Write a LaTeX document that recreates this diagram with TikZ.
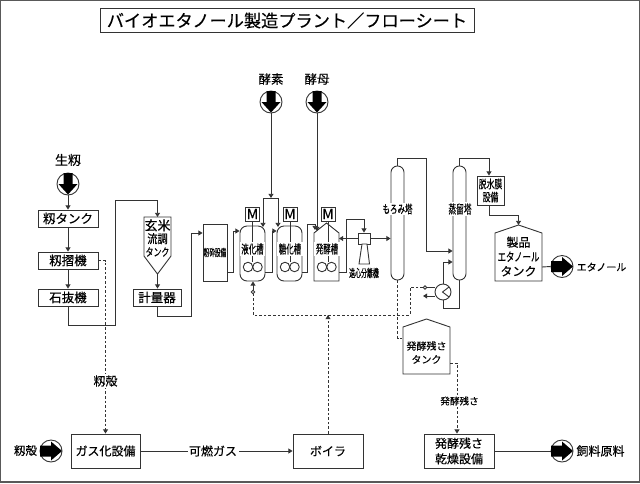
\documentclass[tikz,border=0pt]{standalone}
\usepackage{fontspec}
\setmainfont{Noto Sans CJK JP}[FakeBold=0.35]
\usetikzlibrary{arrows.meta}
\newcommand{\fsz}[1]{\fontsize{#1}{#1}\selectfont}
\newcommand{\nar}[2]{\scalebox{#1}[1]{#2}}
\tikzset{
  line/.style={draw=black!80,line width=0.9pt,line join=miter},
  flow/.style={line,-{Triangle[length=4.2pt,width=5pt]}},
  plain/.style={line},
  steamline/.style={draw=black!80,line width=0.9pt,dash pattern=on 2.6pt off 2pt},
  steamflow/.style={steamline,-{Triangle[length=4.2pt,width=5pt]}},
  box/.style={line,fill=white,rectangle,inner sep=0pt,align=center},
  vessel/.style={line,fill=white,rectangle,rounded corners=7pt,inner sep=0pt},
  column/.style={line,fill=white,rectangle,rounded corners=6.4pt,inner sep=0pt,minimum width=13pt,minimum height=114pt},
  motor/.style={box,minimum width=14pt,minimum height=14pt,font=\fsz{14}},
  paddle/.style={line,circle,inner sep=0pt,minimum size=9.5pt},
  port/.style={line,fill=white,circle,inner sep=0pt,minimum size=22pt},
  tag/.style={inner sep=0pt,align=center},
  backtag/.style={tag,fill=white,inner xsep=1.5pt,inner ysep=1pt},
  tap/.style={line,fill=white,circle,inner sep=0pt,minimum size=3.4pt},
  downflow/.pic={\fill[black] (-4.5,-11)--(4.5,-11)--(4.5,0)--(9.5,0)--(0,10.5)--(-9.5,0)--(-4.5,0)--cycle;},
  rightflow/.pic={\fill[black] (-11,-5.5)--(0,-5.5)--(0,-9.5)--(11,0)--(0,9.5)--(0,5.5)--(-11,5.5)--cycle;}
}
\begin{document}
\begin{tikzpicture}[x=1pt,y=-1pt]
\useasboundingbox (0,0) rectangle (640,483);
\draw[draw=black!65,line width=1.4pt] (0.7,0.7) rectangle (639.3,482);

% Title
\node[box,minimum width=374pt,minimum height=23.5pt,font=\fsz{17.2}] (title) at (287,20.5) {バイオエタノール製造プラント／フローシート};

% Rice intake line
\node[tag,font=\fsz{13}] (rawlabel) at (68,160) {生籾};
\node[port] (rawport) at (68,184) {};
\pic at (68,184) {downflow};
\node[box,minimum width=60pt,minimum height=17pt,font=\fsz{12.5}] (hopper) at (68,218.5) {籾タンク};
\node[box,minimum width=60pt,minimum height=17pt,font=\fsz{12.5}] (huller) at (68,260.5) {籾摺機};
\node[box,minimum width=60pt,minimum height=17pt,font=\fsz{12.5}] (stoner) at (68,297.5) {石抜機};
\draw[flow] (rawport.south) -- (hopper.north);
\draw[flow] (hopper.south) -- (huller.north);
\draw[flow] (huller.south) -- (stoner.north);

% Brown rice surge tank and weigher
\coordinate (surgetop) at (157.5,217);
\coordinate (surgetip) at (157.5,274);
\draw[line,fill=white] (144,217) -- (171,217) -- (171,256) -- (surgetip) -- (144,256) -- cycle;
\node[tag] (surgetext) at (157.5,238) {\fsz{13}玄米\\[1pt]\fsz{12}\nar{0.85}{流調}\\[1pt]\fsz{11}\nar{0.72}{タンク}};
\node[box,minimum width=48pt,minimum height=17pt,font=\fsz{12.5}] (weigher) at (157,297.5) {計量器};
\draw[flow] (stoner.south) -- (68,325) -- (115,325) -- (115,200) -- (157.5,200) -- (surgetop);
\draw[flow] (surgetip) -- (weigher.north-|surgetip);

% Mill
\node[box,minimum width=24pt,minimum height=57pt] (mill) at (215,252.5) {\fsz{10}\nar{0.56}{粉砕設備}};
\draw[flow] (weigher.south) -- (157,316) -- (191,316) -- (191,233) -- (mill.west|-191,233);

% Liquefaction and saccharification vessels
\node[vessel,minimum width=25pt,minimum height=55pt] (liq) at (252.5,253.5) {};
\node[vessel,minimum width=25pt,minimum height=55pt] (sac) at (289.5,253.5) {};
\node[motor] (m1) at (252.5,214) {M};
\node[motor] (m2) at (290,214) {M};
\node[motor] (m3) at (328,214) {M};

% Fermenter
\coordinate (fermpeak) at (326.5,223);
\coordinate (fermbottom) at (326.5,281);
\draw[line,fill=white] (314,233) -- (fermpeak) -- (339,233) -- (339,281) -- (314,281) -- cycle;

% Agitators
\node[paddle] (p1a) at (248,267) {};
\node[paddle] (p1b) at (257.5,267) {};
\node[paddle] (p2a) at (285,267) {};
\node[paddle] (p2b) at (294.5,267) {};
\node[paddle] (p3a) at (322,267) {};
\node[paddle] (p3b) at (331.5,267) {};
\draw[plain] (m1.south) -- (252.5,262);
\draw[plain] (m2.south) -- (290,262);
\draw[plain] (m3.south) -- (328,262);
\node[backtag] (liqtext) at (252.5,249) {\fsz{12}\nar{0.62}{液化槽}};
\node[backtag] (sactext) at (290,249) {\fsz{12}\nar{0.62}{糖化槽}};
\node[backtag] (fermtext) at (327,249) {\fsz{12}\nar{0.62}{発酵槽}};

% Transfers between the vessels
\draw[flow] (mill.east|-0,272) -- (233,272) -- (233,231) -- (liq.west|-0,231);
\draw[flow] (liq.east|-0,272) -- (272,272) -- (272,231) -- (sac.west|-0,231);
\draw[flow] (sac.east|-0,272) -- (307,272) -- (307,224) -- (315,224) -- (315,230);

% Enzyme and yeast feeds
\node[tag,font=\fsz{12.5}] (enzlabel) at (271,79) {酵素};
\node[port] (enzport) at (271,102) {};
\pic at (271,102) {downflow};
\node[tag,font=\fsz{12.5}] (yeastlabel) at (317,79) {酵母};
\node[port] (yeastport) at (317,102) {};
\pic at (317,102) {downflow};
\coordinate (split) at (271,198);
\draw[flow] (enzport.south) -- (split);
\draw[flow] (split) -- (263,198) -- (263,227);
\draw[flow] (split) -- (278,198) -- (278,227);
\draw[flow] (yeastport.south) -- (317,231);

% Centrifuge
\node[box,minimum width=12pt,minimum height=11pt] (sephead) at (364,238.5) {};
\draw[line,fill=white] (362,244) -- (367,244) -- (369.5,264) -- (359,264) -- cycle;
\node[tag] (septext) at (364,273) {\fsz{11}\nar{0.54}{遠心分離機}};
\draw[flow] (sephead.west) -- (339,238.5);
\draw[flow] (339,272) -- (346,272) -- (346,219) -- (364,219) -- (sephead.north);

% Columns
\node[column] (mash) at (397.5,223) {};
\node[column] (still) at (459.5,223) {};
\node[backtag] (mashtext) at (397.5,209) {\fsz{11.5}\nar{0.65}{もろみ塔}};
\node[backtag] (stilltext) at (460,209) {\fsz{12}\nar{0.64}{蒸留塔}};
\draw[flow] (sephead.east) -- (mash.west|-0,238.5);
\draw[flow] (mash.north) -- (397.5,158) -- (426,158) -- (426,251) -- (still.west|-0,251);

% Dehydration and product tank
\node[box,minimum width=27pt,minimum height=29pt] (dehyd) at (490.5,190.5) {\fsz{11.5}\nar{0.68}{脱水膜}\\[1pt]\fsz{11.5}\nar{0.68}{設備}};
\draw[flow] (still.north) -- (459.5,158) -- (489,158) -- (dehyd.north-|489,0);
\coordinate (prodpeak) at (518.5,225);
\coordinate (prodside) at (542,267);
\draw[line,fill=white] (495,233) -- (prodpeak) -- (542,233) -- (542,281) -- (495,281) -- cycle;
\node[tag] (prodtext) at (518.5,256.5) {\fsz{12}製品\\[2.5pt]\fsz{12}\nar{0.7}{エタノール}\\[2.5pt]\fsz{12}タンク};
\draw[flow] (dehyd.south-|489,0) -- (489,215) -- (518.5,215) -- (prodpeak);
\node[port] (ethport) at (562,266.5) {};
\draw[plain] (prodside) -- (ethport.west);
\pic at (562,266.5) {rightflow};
\node[tag,font=\fsz{10}] (ethlabel) at (601.5,267) {エタノール};

% Reboiler
\node[line,fill=white,circle,inner sep=0pt,minimum size=16pt] (reb) at (443,292) {};
\draw[plain] (449,287) -- (442.5,292) -- (449,297);
\draw[plain] (still.south) -- (459.5,308) -- (443,308) -- (reb.south);
\draw[flow] (reb.north) -- (443,262) -- (still.west|-0,262);
\node[tap] (steamtap) at (425,287.5) {};
\draw[plain] (steamtap) -- (reb.west|-0,287.5);
\coordinate (condout) at (423,296);
\draw[flow] (reb.west|-0,296) -- (condout);

% Residue tank
\coordinate (respeak) at (426.5,319);
\draw[line,fill=white] (403,327) -- (respeak) -- (450,327) -- (450,374) -- (403,374) -- cycle;
\node[tag] (restext) at (426.5,352.5) {\fsz{10}発酵残さ\\[1.5pt]\fsz{10}タンク};
\draw[steamline] (mash.south) -- (397.5,338) -- (403,338);

% Bottom row
\node[tag,font=\fsz{11.5}] (huskin) at (25.5,450.5) {籾殻};
\node[port] (huskport) at (51,451) {};
\pic at (51,451) {rightflow};
\node[box,minimum width=69pt,minimum height=34pt,font=\fsz{12}] (gasifier) at (105.5,451) {ガス化設備};
\node[box,minimum width=70pt,minimum height=34pt,font=\fsz{12}] (boiler) at (328,451) {ボイラ};
\node[box,minimum width=70pt,minimum height=34pt,font=\fsz{12}] (dryer) at (459,451) {発酵残さ\\[3.5pt]乾燥設備};
\node[port] (feedport) at (562,451) {};
\pic at (562,451) {rightflow};
\node[tag,font=\fsz{12}] (feedlabel) at (600.5,451) {飼料原料};
\draw[plain] (dryer.east) -- (feedport.west);
\draw[flow] (gasifier.east) -- (boiler.west) node[backtag,pos=0.477,font=\fsz{12}] (gaslabel) {可燃ガス};

% Dashed streams
\draw[steamflow] (huller.east) -- (105.5,260.5) -- (gasifier.north);
\node[backtag,font=\fsz{12}] (husklabel) at (105.5,381) {籾殻};
\draw[steamflow] (450,363) -- (457,363) -- (dryer.north-|457,0);
\node[backtag,font=\fsz{9.6}] (reslabel) at (459.5,401) {発酵残さ};
\coordinate (steamjoin) at (328,315);
\draw[steamflow] (boiler.north) -- (steamjoin);
\node[tap] (livetap) at (253,292) {};
\draw[steamline] (steamtap) -- (410,287.5) -- (410,315) -- (253,315) -- (livetap);
\draw[flow] (livetap) -- (liq.south-|253,0);
\end{tikzpicture}
\end{document}
